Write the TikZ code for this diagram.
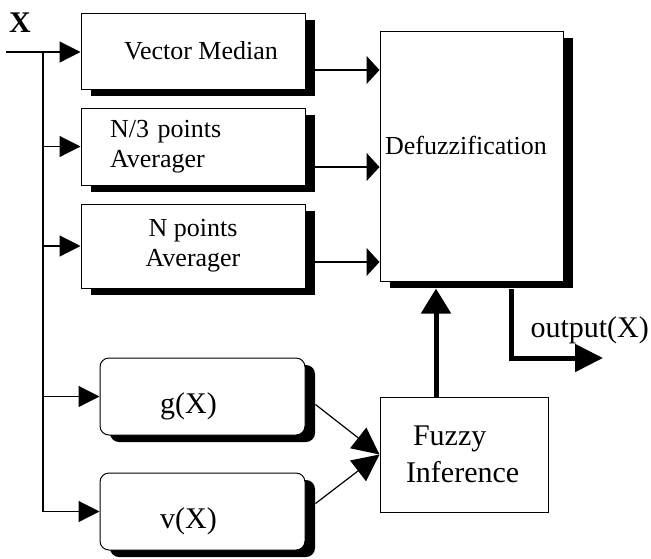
\documentclass[tikz,border=0pt]{standalone}
\usepackage{fontspec}
\setmainfont{Liberation Serif}
\usetikzlibrary{arrows.meta,shadows}
\begin{document}
\begin{tikzpicture}[x=1pt,y=-1pt,every node/.style={font=\fontsize{26}{30}\selectfont},
  blk/.style={draw,line width=1pt,fill=white,inner sep=0pt,drop shadow={shadow xshift=10pt,shadow yshift=-7pt,fill=black,opacity=1}},
  rblk/.style={blk,rounded corners=9pt,minimum width=205pt,minimum height=77pt,font=\fontsize{30}{36}\selectfont,text height=39pt,text depth=6pt},
  sig/.style={line width=1.2pt,-{Triangle[length=21pt,width=21pt]}},
  din/.style={line width=1.2pt,-{Triangle[length=13pt,width=28pt]}},
  fin/.style={line width=1.2pt,-{Triangle[length=27pt,width=26pt]}},
  fat/.style={line width=5pt,-{Triangle[length=25pt,width=29pt]}}]
\useasboundingbox (0,0) rectangle (651,558);
\node[anchor=base,font=\bfseries\fontsize{30}{30}\selectfont] (xlbl) at (20,32) {X};
\node[blk,minimum width=224pt,minimum height=76pt] (vmed) at (193,51) {\hspace*{16pt}Vector Median};
\node[blk,minimum width=224pt,minimum height=77pt,text width=166pt,inner xsep=29pt,align=left] (avg3) at (193,146.5) {N/3 points\\Averager};
\node[blk,minimum width=224pt,minimum height=84pt,align=center] (avgn) at (193,246) {N points\\Averager};
\node[rblk] (gx) at (202.5,396.5) {g(X)\hspace*{28pt}};
\node[rblk] (vx) at (202.5,511.5) {v(X)\hspace*{28pt}};
\node[blk,minimum width=183pt,minimum height=250pt,text depth=22pt] (defuzz) at (471.5,156) {Defuzzification\hspace*{11pt}};
\node[draw,line width=1pt,minimum width=168pt,minimum height=115pt,inner sep=0pt,text width=116pt,align=left,font=\fontsize{30}{37}\selectfont] (fuzzy) at (464,454.5) {\hspace*{7pt}Fuzzy\\Inference};
% input bus
\coordinate (xin) at (6,52);
\coordinate (bus) at (43,52);
\draw[sig] (xin) -- (xin -| vmed.west);
\draw[line width=1.2pt] (bus) -- (bus |- vx.west);
\foreach \n in {avg3,avgn,gx,vx} \draw[sig] (bus |- \n.west) -- (\n.west);
% filters into defuzzification
\foreach \n/\d in {vmed/19,avg3/20.5,avgn/16} \draw[din] ([yshift=-\d pt]\n.east) -- ([yshift=-\d pt]\n.east -| defuzz.west);
\draw[fin] ([xshift=10pt,yshift=-8pt]gx.east) -- (fuzzy.west);
\draw[fin] ([xshift=10pt,yshift=8pt]vx.east) -- (fuzzy.west);
\draw[fat] ([xshift=-28pt]fuzzy.north) -- ([xshift=-35.5pt,yshift=-7pt]defuzz.south);
% output
\coordinate (out) at (603,358);
\draw[fat,-{Triangle[length=28pt,width=27pt]}] ([xshift=39.5pt,yshift=-7pt]defuzz.south) |- (out);
\node[anchor=base west,font=\fontsize{30}{30}\selectfont] (outlbl) at (527,337) {output(X)};
\end{tikzpicture}
\end{document}
